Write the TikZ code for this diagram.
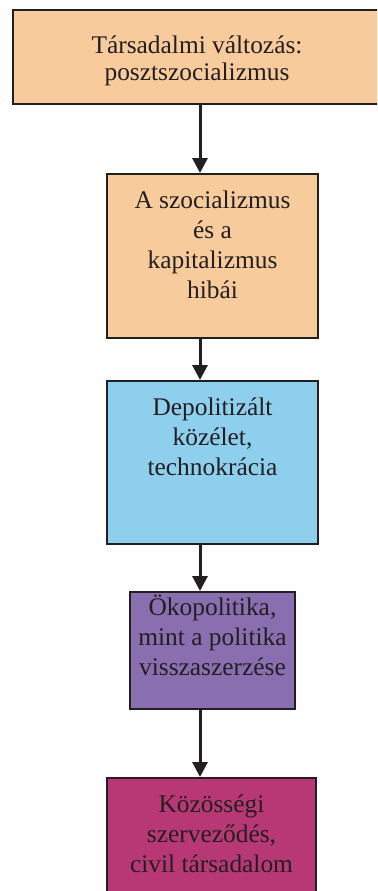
\documentclass[tikz,border=0pt]{standalone}
\usepackage{fontspec}
\setmainfont{Liberation Serif}
\usetikzlibrary{arrows.meta}
\definecolor{ink}{RGB}{35,31,32}
\definecolor{peach}{RGB}{248,203,156}
\definecolor{skyblue}{RGB}{142,207,238}
\definecolor{lavender}{RGB}{137,110,176}
\definecolor{berry}{RGB}{183,56,116}
\tikzset{
  box/.style={draw=ink, line width=1pt, anchor=north west, inner sep=0pt},
  txt/.style={anchor=north, align=center, text=ink, inner sep=0pt,
    font=\fontsize{12.7}{15}\selectfont},
  arr/.style={-{Triangle[width=7.5pt,length=7.5pt]}, line width=1.5pt, draw=ink}
}
\begin{document}
\begin{tikzpicture}[x=0.5pt,y=-0.5pt]
            \useasboundingbox (0,0) rectangle (377,891);
            \clip (0,0) rectangle (377,891);

            \node[box, fill=peach, minimum width=184pt, minimum height=47pt] (b1) at (12,9) {};
            \node[box, fill=peach, minimum width=105.5pt, minimum height=82pt] (b2) at (106,173) {};
            \node[box, fill=skyblue, minimum width=105.5pt, minimum height=81.5pt] (b3) at (106,380) {};
            \node[box, fill=lavender, minimum width=82.5pt, minimum height=58.5pt] (b4) at (129,591) {};
            \node[box, fill=berry, minimum width=104.5pt, minimum height=70pt] (b5) at (106,777) {};

            \node[txt, font=\fontsize{12.7}{12}\selectfont] (t1) at ([yshift=-13.1pt]b1.north) {\strut Társadalmi változás:\\posztszocializmus};
            \node[txt] (t2) at ([yshift=-7pt]b2.north) {\strut A szocializmus\\és a\\kapitalizmus\\hibái};
            \node[txt] (t3) at ([yshift=-7pt]b3.north) {\strut Depolitizált\\közélet,\\technokrácia};
            \node[txt] (t4) at ([yshift=-1.5pt]b4.north) {\strut Ökopolitika,\\mint a politika\\visszaszerzése};
            \node[txt] (t5) at ([yshift=-7pt]b5.north) {\strut Közösségi\\szerveződés,\\civil társadalom};

            \coordinate (ax) at (200,0);
            \draw[arr] (b1.south -| ax) -- (b2.north -| ax);
            \draw[arr] (b2.south -| ax) -- (b3.north -| ax);
            \draw[arr] (b3.south -| ax) -- (b4.north -| ax);
            \draw[arr] (b4.south -| ax) -- (b5.north -| ax);

        \end{tikzpicture}
\end{document}
